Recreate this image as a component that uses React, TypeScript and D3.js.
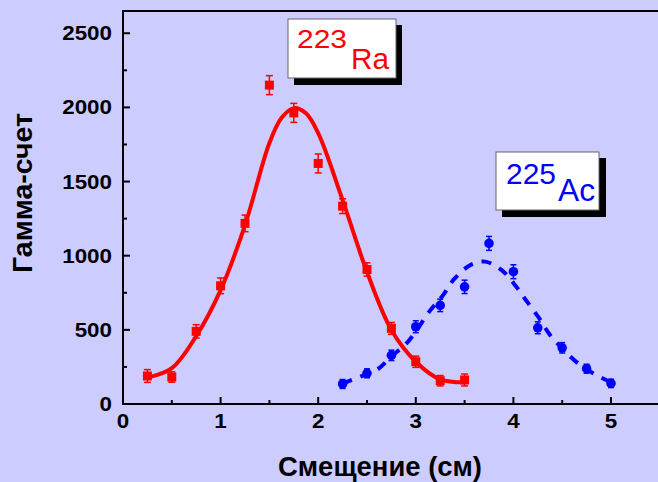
import React from "react";
import * as d3 from "d3";

const W = 658;
const H = 482;

// Ra-223 measured points: x (cm), counts, error
const raX = [0.25, 0.5, 0.75, 1.0, 1.25, 1.5, 1.75, 2.0, 2.25, 2.5, 2.75, 3.0, 3.25, 3.5];
const raY = [189, 182, 490, 797, 1218, 2150, 1963, 1622, 1334, 907, 510, 285, 157, 162];
const raErr = [43, 35, 45, 53, 56, 64, 64, 64, 50, 45, 40, 38, 35, 40];

// Ra-223 fitted curve
const raFitX = [0.25, 0.5, 0.75, 1.0, 1.25, 1.5, 1.625, 1.75, 1.875, 2.0, 2.25, 2.5, 2.75, 3.0, 3.25, 3.5];
const raFitY = [178, 242, 458, 768, 1206, 1760, 1930, 1995, 1960, 1826, 1375, 890, 499, 285, 166, 146];

// Ac-225 measured points
const acX = [2.25, 2.5, 2.75, 3.0, 3.25, 3.5, 3.75, 4.0, 4.25, 4.5, 4.75, 5.0];
const acY = [135, 207, 328, 521, 665, 790, 1083, 892, 514, 379, 238, 139];
const acErr = [30, 30, 35, 40, 42, 45, 47, 47, 40, 35, 30, 28];

// Ac-225 fitted curve
const acFitX = [2.25, 2.43, 2.6, 2.75, 2.92, 3.15, 3.28, 3.39, 3.56, 3.71, 3.88, 4.03, 4.14, 4.26, 4.37, 4.5, 4.67, 4.83, 5.0];
const acFitY = [138, 184, 230, 320, 420, 633, 734, 840, 937, 960, 903, 791, 690, 582, 470, 375, 270, 202, 145];

const xMajor = [0, 1, 2, 3, 4, 5];
const xMinor = [0.5, 1.5, 2.5, 3.5, 4.5];
const yMajor = [0, 500, 1000, 1500, 2000, 2500];
const yMinor = [250, 750, 1250, 1750, 2250];

const BG = "#CCCCFF";
const FONT = "'Liberation Sans', Arial, sans-serif";

export default function App() {
  const x = d3.scaleLinear().domain([0, 5.5]).range([123, 659.8]);
  const y = d3.scaleLinear().domain([0, 2650]).range([404, 11]);

  const line = d3
    .line<[number, number]>()
    .x((d) => x(d[0]))
    .y((d) => y(d[1]))
    .curve(d3.curveCatmullRom.alpha(0.5));

  const raFit: [number, number][] = raFitX.map((v, i) => [v, raFitY[i]]);
  const acFit: [number, number][] = acFitX.map((v, i) => [v, acFitY[i]]);

  const x0 = x(0);
  const y0 = y(0);

  return (
    <svg
      width={W}
      height={H}
      style={{ position: "absolute", left: 0, top: 0, display: "block" }}
    >
      <rect x={0} y={0} width={W} height={H} fill={BG} />

      {/* curves */}
      <path d={line(raFit) || ""} fill="none" stroke="#FF0000" strokeWidth={4} />
      <path
        d={line(acFit) || ""}
        fill="none"
        stroke="#0000FF"
        strokeWidth={4}
        strokeDasharray="10 9"
      />

      {/* Ra points */}
      {raX.map((v, i) => {
        const cx = x(v);
        const cy = y(raY[i]);
        const top = y(raY[i] + raErr[i]);
        const bot = y(raY[i] - raErr[i]);
        return (
          <g key={"ra" + i} stroke="#FF0000" fill="#FF0000">
            <line x1={cx} x2={cx} y1={top} y2={bot} strokeWidth={1.5} />
            <line x1={cx - 3.5} x2={cx + 3.5} y1={top} y2={top} strokeWidth={1.5} />
            <line x1={cx - 3.5} x2={cx + 3.5} y1={bot} y2={bot} strokeWidth={1.5} />
            <rect x={cx - 4.5} y={cy - 4.5} width={9} height={9} stroke="none" />
          </g>
        );
      })}

      {/* Ac points */}
      {acX.map((v, i) => {
        const cx = x(v);
        const cy = y(acY[i]);
        const top = y(acY[i] + acErr[i]);
        const bot = y(acY[i] - acErr[i]);
        return (
          <g key={"ac" + i} stroke="#0000FF" fill="#0000FF">
            <line x1={cx} x2={cx} y1={top} y2={bot} strokeWidth={1.5} />
            <line x1={cx - 3} x2={cx + 3} y1={top} y2={top} strokeWidth={1.5} />
            <line x1={cx - 3} x2={cx + 3} y1={bot} y2={bot} strokeWidth={1.5} />
            <circle cx={cx} cy={cy} r={4.8} stroke="none" />
          </g>
        );
      })}

      {/* axes */}
      <line x1={x0} x2={x0} y1={10} y2={y0 + 1} stroke="#000" strokeWidth={2} />
      <line x1={x0 - 1} x2={660} y1={y0} y2={y0} stroke="#000" strokeWidth={2} />
      <line x1={x0 - 1} x2={660} y1={11} y2={11} stroke="#000" strokeWidth={2} />

      {xMajor.map((t) => (
        <line key={"xM" + t} x1={x(t)} x2={x(t)} y1={y0} y2={y0 - 7} stroke="#000" strokeWidth={2} />
      ))}
      {xMinor.map((t) => (
        <line key={"xm" + t} x1={x(t)} x2={x(t)} y1={y0} y2={y0 - 4} stroke="#000" strokeWidth={2} />
      ))}
      {yMajor.map((t) => (
        <line key={"yM" + t} x1={x0} x2={x0 + 7} y1={y(t)} y2={y(t)} stroke="#000" strokeWidth={2} />
      ))}
      {yMinor.map((t) => (
        <line key={"ym" + t} x1={x0} x2={x0 + 4} y1={y(t)} y2={y(t)} stroke="#000" strokeWidth={2} />
      ))}

      {xMajor.map((t) => (
        <text
          key={"xl" + t}
          transform={`translate(${x(t)},428) scale(1.12,1)`}
          textAnchor="middle"
          fontFamily={FONT}
          fontWeight="bold"
          fontSize={20}
          fill="#000"
        >
          {t}
        </text>
      ))}
      {yMajor.map((t) => (
        <text
          key={"yl" + t}
          transform={`translate(112,${y(t) + 7}) scale(1.12,1)`}
          textAnchor="end"
          fontFamily={FONT}
          fontWeight="bold"
          fontSize={20}
          fill="#000"
        >
          {t}
        </text>
      ))}

      {/* axis titles */}
      <text
        x={278}
        y={476}
        textLength={204}
        lengthAdjust="spacingAndGlyphs"
        fontFamily={FONT}
        fontWeight="bold"
        fontSize={27}
        fill="#000"
      >
        Смещение (см)
      </text>
      <text
        transform="translate(32,273) rotate(-90)"
        x={0}
        y={0}
        textLength={160}
        lengthAdjust="spacingAndGlyphs"
        fontFamily={FONT}
        fontWeight="bold"
        fontSize={28}
        fill="#000"
      >
        Гамма-счет
      </text>

      {/* Ra label box */}
      <rect x={294} y={25} width={108} height={60} fill="#000" />
      <rect x={288} y={19} width={108} height={59} fill="#fff" stroke="#666" strokeWidth={1} />
      <text
        x={297}
        y={48}
        textLength={50}
        lengthAdjust="spacingAndGlyphs"
        fontFamily={FONT}
        fontSize={25}
        fill="#FF0000"
      >
        223
      </text>
      <text
        x={351}
        y={69}
        textLength={38}
        lengthAdjust="spacingAndGlyphs"
        fontFamily={FONT}
        fontSize={29}
        fill="#FF0000"
      >
        Ra
      </text>

      {/* Ac label box */}
      <rect x={502} y={158} width={104} height={59} fill="#000" />
      <rect x={496} y={152} width={103} height={58} fill="#fff" stroke="#666" strokeWidth={1} />
      <text
        x={506}
        y={184}
        textLength={50}
        lengthAdjust="spacingAndGlyphs"
        fontFamily={FONT}
        fontSize={30}
        fill="#0000FF"
      >
        225
      </text>
      <text
        x={558}
        y={201}
        textLength={37}
        lengthAdjust="spacingAndGlyphs"
        fontFamily={FONT}
        fontSize={32}
        fill="#0000FF"
      >
        Ac
      </text>
    </svg>
  );
}
